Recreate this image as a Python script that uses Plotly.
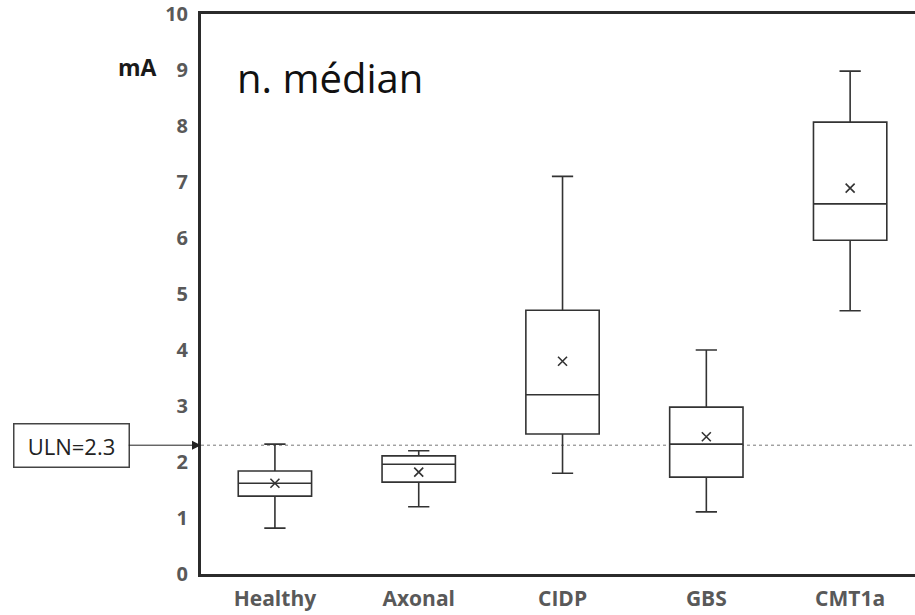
import plotly.graph_objects as go

categories = ["Healthy", "Axonal", "CIDP", "GBS", "CMT1a"]
lower_whisker = [0.82, 1.20, 1.80, 1.11, 4.70]
q1 = [1.39, 1.64, 2.50, 1.73, 5.96]
median = [1.62, 1.96, 3.20, 2.32, 6.61]
q3 = [1.84, 2.11, 4.71, 2.98, 8.07]
upper_whisker = [2.32, 2.20, 7.10, 4.00, 8.98]
mean = [1.62, 1.82, 3.80, 2.45, 6.89]
uln_value = 2.3
y_ticks = list(range(0, 11))

LINE = "#333333"
TICK_GREY = "#595959"

fig = go.Figure()
fig.add_trace(go.Box(
    x=categories, q1=q1, median=median, q3=q3,
    lowerfence=lower_whisker, upperfence=upper_whisker,
    width=0.51, whiskerwidth=0.29,
    line=dict(color=LINE, width=1.6), fillcolor="white",
    boxpoints=False, showlegend=False, hoverinfo="skip",
))
fig.add_trace(go.Scatter(
    x=categories, y=mean, mode="markers",
    marker=dict(symbol="x-thin", size=9, line=dict(color=LINE, width=1.6), color=LINE),
    showlegend=False, hoverinfo="skip",
))

# ULN dotted reference line
fig.add_shape(type="line", xref="paper", x0=0, x1=1, yref="y", y0=uln_value, y1=uln_value,
              line=dict(color="#777777", width=1, dash="dot"), layer="below")

# ULN label with arrow pointing to the axis
fig.add_annotation(
    x=0, xref="paper", y=uln_value, yref="y",
    text=f"ULN={uln_value}", showarrow=True,
    ax=-130, ay=0, axref="pixel", ayref="pixel",
    arrowhead=2, arrowsize=1.8, arrowwidth=1, arrowcolor="#222222",
    standoff=0,
    font=dict(family="Open Sans", size=22, color="#222222"),
    bordercolor="#444444", borderwidth=1.5, borderpad=3,
    width=108, height=36, bgcolor="white",
)

fig.add_annotation(
    x=0.0476, xref="paper", xanchor="left", y=8.86, yref="y", yanchor="middle",
    text="n. médian", showarrow=False,
    font=dict(family="Open Sans", size=40, color="#111111"),
)
fig.add_annotation(
    x=-0.0588, xref="paper", xanchor="right", y=9.05, yref="y", yanchor="middle",
    text="mA", showarrow=False,
    font=dict(family="Open Sans", size=23, color="#1a1a1a", weight="bold"),
)

fig.update_layout(
    width=915, height=615,
    margin=dict(l=201, r=0, t=14, b=41),
    paper_bgcolor="white", plot_bgcolor="white",
    font=dict(family="Open Sans"),
)
fig.update_xaxes(
    type="category", categoryorder="array", categoryarray=categories,
    range=[-0.514, 4.451],
    showline=True, linecolor="#2b2b2b", linewidth=3, mirror=True,
    showgrid=False, zeroline=False, ticks="",
    tickfont=dict(family="Open Sans", size=21, color=TICK_GREY, weight="bold"),
    ticklabelstandoff=4,
)
fig.update_yaxes(
    range=[0, 10], tickvals=y_ticks,
    showline=True, linecolor="#2b2b2b", linewidth=3,
    showgrid=False, zeroline=False, ticks="",
    tickfont=dict(family="Open Sans", size=20, color=TICK_GREY, weight="bold"),
    ticklabelstandoff=6,
)

fig.write_html("out.html")
